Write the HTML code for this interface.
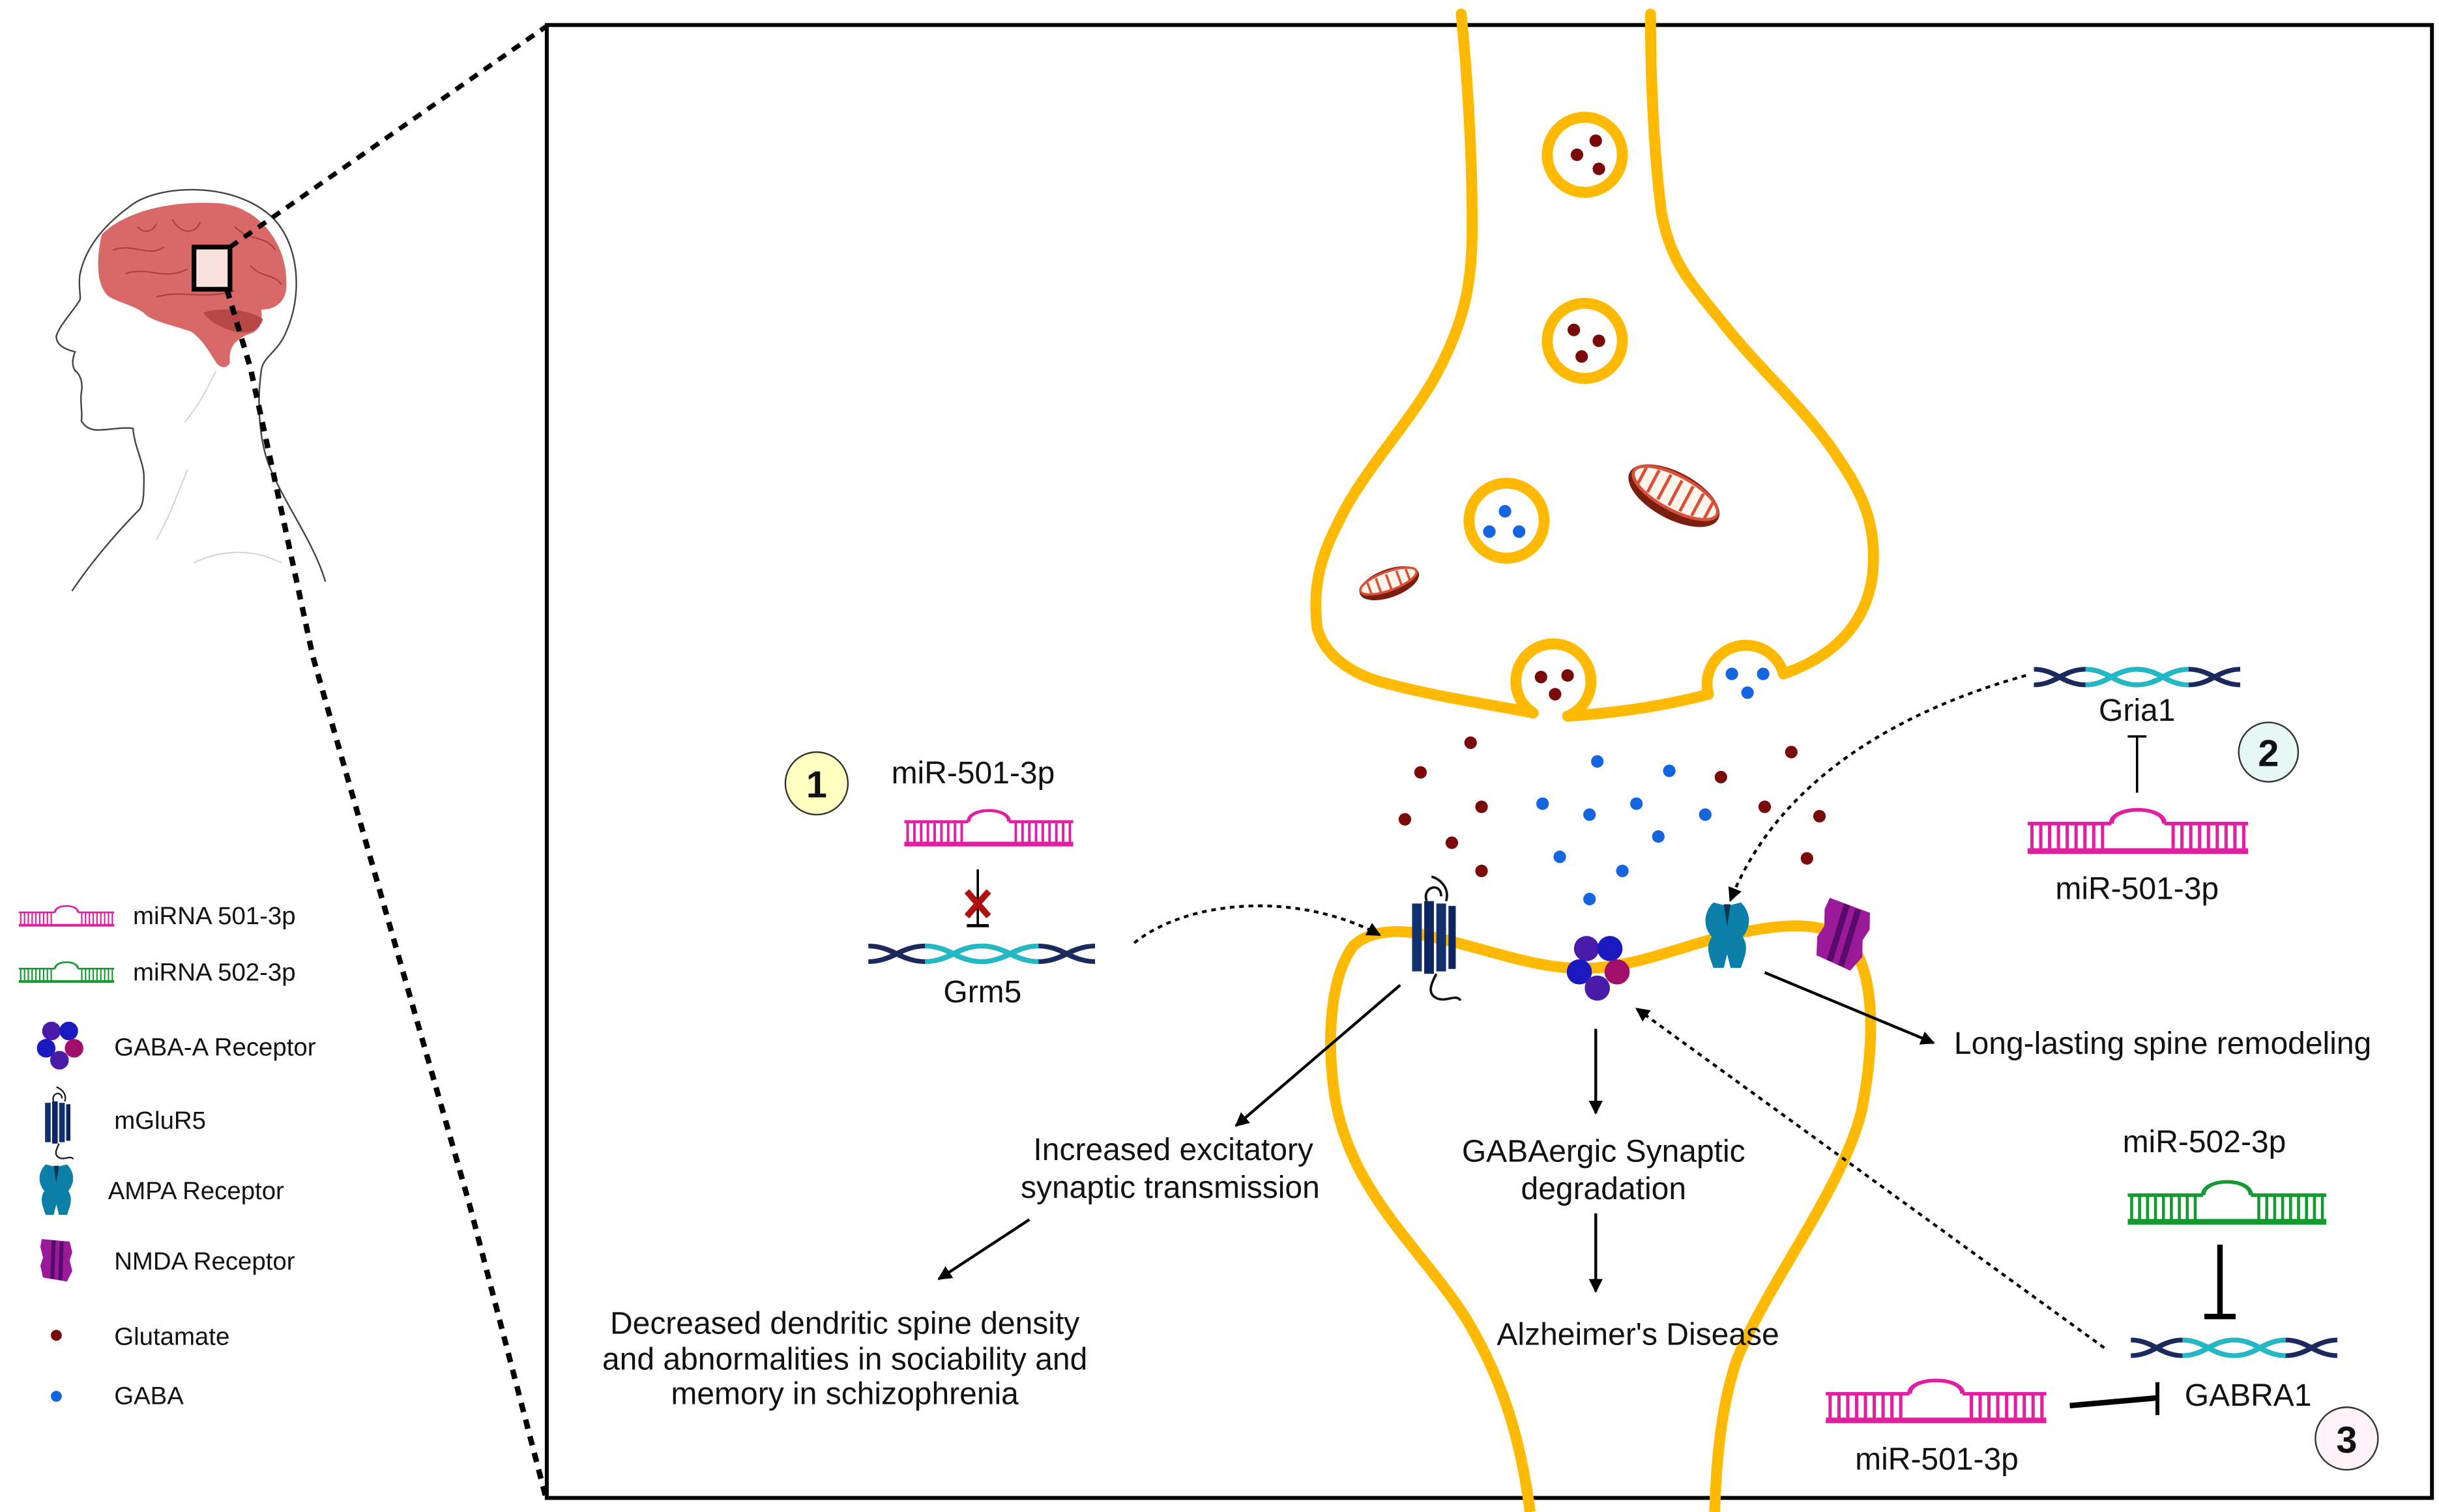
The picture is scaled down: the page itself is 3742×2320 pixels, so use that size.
<!DOCTYPE html>
<html><head><meta charset="utf-8"><style>
html,body{margin:0;padding:0;background:#fff;}
svg{display:block;}
text{font-family:"Liberation Sans",sans-serif;fill:#111;}
</style></head><body>
<svg width="3742" height="2320" viewBox="0 0 1559 967" preserveAspectRatio="none" xmlns="http://www.w3.org/2000/svg">
<defs>
<symbol id="mir" viewBox="0 0 100 30" preserveAspectRatio="none">
<g fill="none" stroke-width="2.2">
<path d="M0 27.5 H100" stroke-width="3.5"/>
<path d="M0 11 H38 M62 11 H100"/>
<path d="M38 11 C38 0 62 0 62 11"/>
<path d="M2 11V27 M6 11V27 M10 11V27 M14 11V27 M18 11V27 M22 11V27 M26 11V27 M30 11V27 M34 11V27 M66 11V27 M70 11V27 M74 11V27 M78 11V27 M82 11V27 M86 11V27 M90 11V27 M94 11V27 M98 11V27" stroke-width="1.5"/>
</g>
</symbol>
<symbol id="helix" viewBox="0 0 100 14" preserveAspectRatio="none">
<path d="M0 2 Q6 2 12.5 7 T25 12 T37.5 7 T50 2 T62.5 7 T75 12 T87.5 7 T100 2" fill="none" stroke="#1b2a5a" stroke-width="3"/>
<path d="M0 12 Q6 12 12.5 7 T25 2 T37.5 7 T50 12 T62.5 7 T75 2 T87.5 7 T100 12" fill="none" stroke="#1b2a5a" stroke-width="3"/>
<path d="M25 2 Q31 2 37.5 7 T50 12 T62.5 7 T75 2" fill="none" stroke="#22b8c4" stroke-width="3"/>
<path d="M25 12 Q31 12 37.5 7 T50 2 T62.5 7 T75 12" fill="none" stroke="#22b8c4" stroke-width="3"/>
</symbol>
<marker id="ah" viewBox="0 0 10 10" refX="9" refY="5" markerWidth="5" markerHeight="5" orient="auto"><path d="M0 0L10 5L0 10z" fill="#000"/></marker>
<g id="gabaA">
<circle cx="-6" cy="-9" r="7" fill="#4a1aa8"/><circle cx="7" cy="-9" r="7" fill="#1a1ac0"/>
<circle cx="-10" cy="4" r="7" fill="#1a1ac0"/><circle cx="11" cy="4" r="7" fill="#a0106a"/>
<circle cx="0" cy="13" r="7" fill="#4a1aa8"/>
</g>
<g id="mglu">
<rect x="-8" y="-13" width="4" height="28" fill="#12306e"/><rect x="-3" y="-14" width="4" height="30" fill="#0d2560"/><rect x="2" y="-13" width="4" height="28" fill="#12306e"/><rect x="7" y="-12" width="3" height="26" fill="#0d2560"/>
<path d="M-2 -14 C-4 -20 4 -22 4 -16 M6 -14 C8 -20 2 -24 0 -24 M2 16 C0 20 -2 24 2 26 C6 28 10 24 12 27" fill="none" stroke="#111" stroke-width="1"/>
</g>
<g id="ampa"><path d="M-8 -18 C-14 -12 -14 -4 -9 2 C-13 8 -10 14 -8 20 H-2 L0 12 L2 20 H8 C10 14 13 8 9 2 C14 -4 14 -12 8 -18 L0 -16 Z" fill="#0a7fa8"/><path d="M-2 -17 L0 -4 L2 -17Z" fill="#0b3550"/></g>
<g id="nmda" transform="rotate(15)"><path d="M-11 -16 L10 -14 L12 -6 L10 0 L12 8 L8 16 L-10 13 L-12 4 L-10 -2 L-12 -10Z" fill="#9a1a9a"/><path d="M-2 -15 L-3 14 M4 -14 L3 15" stroke="#5a0a6a" stroke-width="3"/></g>
</defs>

<!-- Frame -->
<rect x="349.5" y="16" width="1205" height="942" fill="none" stroke="#000" stroke-width="2.5"/>

<!-- Head -->
<path d="M83 132 C100 118 150 115 175 140 C192 158 193 190 183 212 C178 225 168 228 167 237 C164 258 166 280 171 295 C180 320 200 345 208 372" fill="none" stroke="#444" stroke-width="1"/>
<path d="M83 132 C65 145 54 160 51 176 C50 184 52 190 51 192 C46 200 38 208 36 215 C36 220 40 223 48 225 C46 230 46 234 48 237 C52 240 53 246 52 251 C51 258 53 264 52 269 C54 273 58 275 62 275 C70 275 78 273 85 274 C86 286 92 296 92 305 C92 315 92 322 89 326 C75 340 58 360 46 378" fill="none" stroke="#444" stroke-width="1"/>
<path d="M138 237 C132 250 125 262 118 270 M120 300 C112 320 106 335 100 345 M124 360 C140 352 160 350 180 360" fill="none" stroke="#ccc" stroke-width="0.7"/>
<path d="M65 150 C80 135 110 128 140 130 C165 132 183 155 183 180 C184 193 176 198 167 198 C168 207 166 212 158 214 C150 218 146 222 147 232 C145 236 140 236 137 230 C132 222 128 216 122 212 C110 208 100 206 94 202 C88 196 80 195 70 190 C62 184 61 168 65 150Z" fill="#d96868"/>
<path d="M130 200 C140 196 160 198 168 204 C166 212 158 214 150 212 C142 210 134 206 130 200Z" fill="#b84848"/>
<path d="M72 160 C85 155 95 165 105 158 M80 175 C95 170 105 180 120 172 M100 190 C115 185 130 192 150 186 M110 140 C115 150 125 150 128 142 M150 145 C160 155 170 150 176 160 M160 170 C168 178 175 175 180 182 M88 145 C92 150 98 148 100 143" fill="none" stroke="#a83c3c" stroke-width="0.8"/>
<rect x="124" y="158" width="23" height="27" fill="#fbe0e0" stroke="#000" stroke-width="3"/>

<line x1="147" y1="158" x2="349" y2="17" stroke="#000" stroke-width="3" stroke-dasharray="6 5"/>
<path d="M145 185 L160 235 L172 290 L200 420 L300 770 L349 958" fill="none" stroke="#000" stroke-width="3.5" stroke-dasharray="6 5"/>

<!-- Presynaptic terminal -->
<g fill="none" stroke="#FFBA00" stroke-width="7" stroke-linecap="round">
<path d="M934 9 C938 50 941 95 941 145 C941 182 936 208 915 245 C895 278 870 303 855 335 C843 358 839 378 842 402 C848 423 870 433 886 437 C920 446 950 450 980 456"/>
<path d="M980 456 A24 24 0 1 1 1002 458"/>
<path d="M1002 458 C1032 456 1062 452 1092 444"/>
<path d="M1092 444 A24 24 0 0 1 1140 431"/>
<path d="M1140 431 C1160 424 1192 408 1197 367 C1200 335 1190 315 1175 293 C1155 262 1125 237 1100 205 C1080 180 1068 168 1062 136 C1058 105 1055 60 1055 9"/>
<circle cx="1013" cy="99" r="24"/>
<circle cx="1013" cy="218" r="24"/>
<circle cx="963" cy="333" r="24"/>
</g>
<g fill="#7a0a0a">
<circle cx="1008" cy="99" r="4"/><circle cx="1020" cy="90" r="4"/><circle cx="1022" cy="108" r="4"/>
<circle cx="1006" cy="211" r="4"/><circle cx="1022" cy="218" r="4"/><circle cx="1011" cy="228" r="4"/>
<circle cx="985" cy="433" r="4"/><circle cx="1002" cy="432" r="4"/><circle cx="994" cy="444" r="4"/>
</g>
<g fill="#1565e0">
<circle cx="962" cy="327" r="4"/><circle cx="952" cy="340" r="4"/><circle cx="971" cy="340" r="4"/>
<circle cx="1107" cy="431" r="4"/><circle cx="1127" cy="431" r="4"/><circle cx="1117" cy="443" r="4"/>
</g>
<g transform="translate(1070,317) rotate(28)"><ellipse rx="32" ry="15" fill="#7a1f10"/><ellipse rx="30" ry="11" cy="-2" fill="#fff5ea" stroke="#d8503a" stroke-width="2"/><path d="M-24 -8 V4 M-16 -10 V6 M-8 -11 V7 M0 -11 V7 M8 -11 V7 M16 -10 V6 M24 -8 V4" stroke="#d8503a" stroke-width="2"/></g>
<g transform="translate(888,373) rotate(-20)"><ellipse rx="20" ry="9" fill="#7a1f10"/><ellipse rx="19" ry="6" cy="-1.5" fill="#fff5ea" stroke="#d8503a" stroke-width="1.5"/><path d="M-13 -5 V3 M-7 -6 V4 M0 -6 V4 M7 -6 V4 M13 -5 V3" stroke="#d8503a" stroke-width="1.5"/></g>

<!-- Postsynaptic -->
<path d="M978 967 C972 920 960 880 935 840 C905 795 862 760 853 700 C848 665 850 625 865 605 C875 595 895 594 910 598 C950 606 985 622 1020 619 C1050 617 1080 603 1110 597 C1135 592 1160 588 1180 600 C1200 620 1198 670 1190 710 C1178 760 1130 820 1110 870 C1100 900 1097 935 1096 967" fill="none" stroke="#FFBA00" stroke-width="7"/>

<g fill="#7a0a0a">
<circle cx="908" cy="494" r="4"/><circle cx="940" cy="475" r="4"/><circle cx="947" cy="516" r="4"/><circle cx="898" cy="524" r="4"/><circle cx="928" cy="539" r="4"/><circle cx="947" cy="557" r="4"/>
<circle cx="1100" cy="497" r="4"/><circle cx="1145" cy="481" r="4"/><circle cx="1128" cy="516" r="4"/><circle cx="1163" cy="522" r="4"/><circle cx="1155" cy="549" r="4"/>
</g>
<g fill="#1565e0">
<circle cx="1021" cy="487" r="4"/><circle cx="1067" cy="493" r="4"/><circle cx="986" cy="514" r="4"/><circle cx="1016" cy="521" r="4"/><circle cx="1046" cy="514" r="4"/><circle cx="1090" cy="521" r="4"/><circle cx="1060" cy="535" r="4"/><circle cx="997" cy="548" r="4"/><circle cx="1037" cy="557" r="4"/><circle cx="1016" cy="575" r="4"/>
</g>

<use href="#mglu" transform="translate(915,598) scale(1.55)"/>
<use href="#gabaA" transform="translate(1021,617) scale(1.15)"/>
<use href="#ampa" transform="translate(1104,597) scale(1.1)"/>
<use href="#nmda" transform="translate(1178,598) scale(1.3)"/>

<g stroke="#000" stroke-width="1.8" fill="none" marker-end="url(#ah)">
<line x1="895" y1="630" x2="790" y2="720"/>
<line x1="658" y1="780" x2="600" y2="818"/>
<line x1="1020" y1="658" x2="1020" y2="712"/>
<line x1="1020" y1="776" x2="1020" y2="826"/>
<line x1="1128" y1="622" x2="1236" y2="667"/>
</g>
<g stroke="#000" stroke-width="1.8" fill="none" stroke-dasharray="3 3" marker-end="url(#ah)">
<path d="M725 603 C760 575 830 570 882 598"/>
<path d="M1295 432 C1230 450 1140 490 1106 576"/>
<line x1="1345" y1="862" x2="1046" y2="645"/>
</g>

<circle cx="522" cy="501" r="20" fill="#ffffc0" stroke="#333" stroke-width="1"/>
<text x="522" y="510" font-size="24" font-weight="bold" text-anchor="middle">1</text>
<circle cx="1450" cy="481" r="19" fill="#e6f7f5" stroke="#333" stroke-width="1"/>
<text x="1450" y="490" font-size="24" font-weight="bold" text-anchor="middle">2</text>
<circle cx="1500" cy="920" r="20" fill="#fff2f8" stroke="#333" stroke-width="1"/>
<text x="1500" y="929" font-size="24" font-weight="bold" text-anchor="middle">3</text>

<text x="622" y="501" font-size="20" text-anchor="middle">miR-501-3p</text>
<use href="#mir" x="578" y="516" width="108" height="26" stroke="#e020a0"/>
<line x1="625" y1="556" x2="625" y2="592" stroke="#000" stroke-width="1.5"/>
<line x1="618" y1="592" x2="632" y2="592" stroke="#000" stroke-width="2"/>
<path d="M618 570 L632 586 M632 570 L618 586" stroke="#b01010" stroke-width="4"/>
<use href="#helix" x="555" y="603" width="145" height="14"/>
<text x="628" y="641" font-size="20" text-anchor="middle">Grm5</text>

<use href="#helix" x="1300" y="426" width="132" height="14"/>
<text x="1366" y="461" font-size="20" text-anchor="middle">Gria1</text>
<line x1="1366" y1="471" x2="1366" y2="507" stroke="#000" stroke-width="1.5"/>
<line x1="1360" y1="471" x2="1372" y2="471" stroke="#000" stroke-width="1.5"/>
<use href="#mir" x="1296" y="515" width="141" height="32" stroke="#e020a0"/>
<text x="1366" y="575" font-size="20" text-anchor="middle">miR-501-3p</text>

<text x="1409" y="737" font-size="20" text-anchor="middle">miR-502-3p</text>
<use href="#mir" x="1360" y="753" width="127" height="31" stroke="#149a30"/>
<line x1="1419" y1="796" x2="1419" y2="842" stroke="#000" stroke-width="3.5"/>
<line x1="1409" y1="842" x2="1429" y2="842" stroke="#000" stroke-width="3.5"/>
<use href="#helix" x="1362" y="855" width="132" height="14"/>
<text x="1437" y="899" font-size="20" text-anchor="middle">GABRA1</text>
<use href="#mir" x="1167" y="880" width="141" height="31" stroke="#e020a0"/>
<line x1="1323" y1="899" x2="1379" y2="894" stroke="#000" stroke-width="3.5"/>
<line x1="1379" y1="884" x2="1379" y2="905" stroke="#000" stroke-width="2.5"/>
<text x="1238" y="940" font-size="20" text-anchor="middle">miR-501-3p</text>

<g font-size="20" text-anchor="middle">
<text x="750" y="742">Increased excitatory</text>
<text x="748" y="766">synaptic transmission</text>
<text x="1025" y="743">GABAergic Synaptic</text>
<text x="1025" y="767">degradation</text>
<text x="1047" y="860">Alzheimer's Disease</text>
<text x="540" y="853">Decreased dendritic spine density</text>
<text x="540" y="876">and abnormalities in sociability and</text>
<text x="540" y="898">memory in schizophrenia</text>
</g>
<text x="1249" y="674" font-size="20">Long-lasting spine remodeling</text>

<use href="#mir" x="12" y="578" width="61" height="15" stroke="#e020a0"/>
<text x="85" y="591" font-size="16">miRNA 501-3p</text>
<use href="#mir" x="12" y="614" width="61" height="15" stroke="#149a30"/>
<text x="85" y="627" font-size="16">miRNA 502-3p</text>
<use href="#gabaA" transform="translate(38,667) scale(0.85)"/>
<text x="73" y="675" font-size="16">GABA-A Receptor</text>
<use href="#mglu" transform="translate(36,717) scale(0.9)"/>
<text x="73" y="722" font-size="16">mGluR5</text>
<use href="#ampa" transform="translate(36,760) scale(0.85)"/>
<text x="69" y="767" font-size="16">AMPA Receptor</text>
<use href="#nmda" transform="translate(36,806) scale(0.85) rotate(-15)"/>
<text x="73" y="812" font-size="16">NMDA Receptor</text>
<circle cx="36" cy="854" r="3.5" fill="#7a0a0a"/>
<text x="73" y="860" font-size="16">Glutamate</text>
<circle cx="36" cy="893" r="3.5" fill="#1565e0"/>
<text x="73" y="898" font-size="16">GABA</text>
</svg>
</body></html>
